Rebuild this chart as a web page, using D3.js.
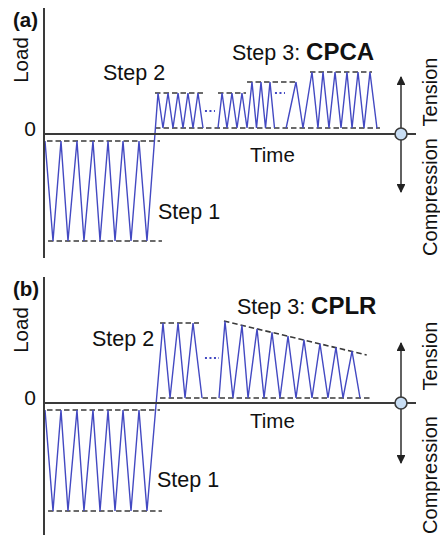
<!DOCTYPE html>
<html>
<head>
<meta charset="utf-8">
<script src="https://cdn.jsdelivr.net/npm/d3@7"></script>
<style>
  html, body { margin: 0; padding: 0; background: #fff; }
  svg { display: block; font-family: "Liberation Sans", Arial, sans-serif; }
</style>
</head>
<body>
<svg id="chart" width="440" height="541"></svg>
<script>
// ---- Loading programme values (time in arbitrary units, load in arbitrary units) ----

// Step 1: compressive cycling, identical in both programmes
const step1Time = [0.13, 1.16, 2.19, 3.09, 4.25, 5.15, 6.31, 7.22, 8.25, 9.15, 10.18, 11.21, 12.24, 13.27];
const step1LoadA = [-0.7, -10.7, -0.7, -10.7, -0.7, -10.7, -0.7, -10.7, -0.7, -10.7, -0.7, -10.7, -0.7, -10.7];
const step1LoadB = [-0.7, -10.8, -0.7, -10.8, -0.7, -10.8, -0.7, -10.8, -0.7, -10.8, -0.7, -10.8, -0.7, -10.8];

// (a) CPCA: step 2 first block of tension cycles
const cpcaStep2Time = [14.69, 15.33, 15.98, 16.62, 17.27, 17.91, 18.55, 19.2, 19.84, 20.49];
const cpcaStep2Load = [4.1, 0.6, 4.1, 0.6, 4.1, 0.6, 4.1, 0.6, 4.1, 0.6];
// (a) CPCA: end of step 2 and first amplitude level of step 3
const cpcaMidTime = [22.42, 22.94, 23.58, 24.22, 24.87, 25.51, 26.16, 26.8, 27.38, 27.96, 28.54, 29.12, 29.7];
const cpcaMidLoad = [0.6, 4.1, 0.6, 4.1, 0.6, 4.1, 0.6, 5.2, 0.6, 5.2, 0.6, 5.2, 0.6];
// (a) CPCA: last block at the highest constant amplitude
const cpcaEndTime = [31.2, 32.47, 33.37, 34.53, 35.3, 35.95, 36.72, 37.5, 38.27, 39.04, 39.69, 40.46, 41.23, 42.0, 42.9];
const cpcaEndLoad = [0.6, 5.2, 0.6, 6.2, 0.6, 6.2, 0.6, 6.2, 0.6, 6.2, 0.6, 6.2, 0.6, 6.2, 0.6];

// (b) CPLR: step 2 tension cycles
const cplrStep2Time = [15.33, 16.24, 17.27, 18.17, 19.2, 20.36];
const cplrStep2Load = [8.0, 0.5, 8.0, 0.5, 8.0, 0.5];
// (b) CPLR: step 3 with linearly reducing peak load
const cplrStep3Time = [22.55, 23.32, 24.35, 25.51, 26.29, 27.45, 28.35, 29.38, 30.41, 31.44, 32.47, 33.5, 34.53, 35.56, 36.59, 37.62, 38.53, 39.69, 40.72];
const cplrStep3Load = [0.5, 8.18, 0.5, 7.77, 0.5, 7.42, 0.5, 7.07, 0.5, 6.69, 0.5, 6.31, 0.5, 5.93, 0.5, 5.56, 0.5, 5.18, 0.5];

// Envelope (dashed) lines: [t0, load0, t1, load1]
const cpcaEnvelopes = [
  [0.39, -0.7, 14.95, -0.7],
  [0.52, -10.7, 15.2, -10.7],
  [14.3, 4.1, 20.62, 4.1],
  [22.42, 4.1, 26.03, 4.1],
  [14.3, 0.6, 43.29, 0.6],
  [26.16, 5.2, 32.73, 5.2],
  [34.27, 6.2, 42.26, 6.2]
];
const cplrEnvelopes = [
  [0.39, -0.7, 14.95, -0.7],
  [0.52, -10.8, 15.2, -10.8],
  [14.95, 8.0, 19.97, 8.0],
  [14.95, 0.5, 42.0, 0.5],
  [23.19, 8.2, 41.58, 4.8]
];

// Ellipses marking omitted cycles: [t0, t1, load]
const cpcaEllipses = [[20.74, 22.03, 2.3], [29.76, 31.05, 4.1]];
const cplrEllipses = [[20.74, 22.55, 4.5]];

// Axis domains
const timeDomain = [0, 46];
const loadTicks = [0];

// ---- Drawing ----
const svg = d3.select("#chart");
const BLUE = "#4349c2";
const DARK = "#3a3a3a";

svg.append("defs").append("marker")
  .attr("id", "arrow")
  .attr("viewBox", "0 0 10 10")
  .attr("refX", 9).attr("refY", 5)
  .attr("markerWidth", 5.5).attr("markerHeight", 5.5)
  .attr("markerUnits", "strokeWidth")
  .attr("orient", "auto")
  .append("path").attr("d", "M0,0 L10,5 L0,10 Z").attr("fill", "#222");

const x = d3.scaleLinear().domain(timeDomain).range([44, 401]);

function panel(cfg) {
  const y = d3.scaleLinear().domain(cfg.loadDomain).range(cfg.yRange);
  const g = svg.append("g");
  const line = d3.line().x(d => x(d[0])).y(d => y(d[1]));

  // envelopes
  g.selectAll("line.env").data(cfg.envelopes).join("line")
    .attr("class", "env")
    .attr("x1", d => x(d[0])).attr("y1", d => y(d[1]))
    .attr("x2", d => x(d[2])).attr("y2", d => y(d[3]))
    .attr("stroke", DARK).attr("stroke-width", 1.6)
    .attr("stroke-dasharray", "5.5,3");

  // waveform blocks
  g.selectAll("path.wave").data(cfg.blocks).join("path")
    .attr("class", "wave")
    .attr("d", b => line(d3.zip(b[0], b[1])))
    .attr("fill", "none").attr("stroke", BLUE)
    .attr("stroke-width", 1.4).attr("stroke-linejoin", "miter");

  // ellipses
  g.selectAll("line.dots").data(cfg.ellipses).join("line")
    .attr("class", "dots")
    .attr("x1", d => x(d[0])).attr("x2", d => x(d[1]))
    .attr("y1", d => y(d[2])).attr("y2", d => y(d[2]))
    .attr("stroke", BLUE).attr("stroke-width", 2)
    .attr("stroke-dasharray", "2,2.5");

  // axes
  const y0 = y(0);
  g.append("line").attr("x1", 44).attr("x2", 44)
    .attr("y1", cfg.yRange[1]).attr("y2", cfg.yRange[0])
    .attr("stroke", DARK).attr("stroke-width", 2);
  g.append("line").attr("x1", 44).attr("x2", 416)
    .attr("y1", y0).attr("y2", y0)
    .attr("stroke", DARK).attr("stroke-width", 2);

  g.selectAll("text.tick").data(loadTicks).join("text")
    .attr("class", "tick")
    .attr("x", 36).attr("y", d => y(d) + 1.5)
    .attr("text-anchor", "end").attr("font-size", 21).attr("fill", "#111")
    .text(d => d);

  // tension / compression indicator
  const cx = x(timeDomain[1]);
  g.append("line").attr("x1", cx).attr("x2", cx)
    .attr("y1", y0).attr("y2", y0 - cfg.arrowUp)
    .attr("stroke", DARK).attr("stroke-width", 1.6).attr("marker-end", "url(#arrow)");
  g.append("line").attr("x1", cx).attr("x2", cx)
    .attr("y1", y0).attr("y2", y0 + cfg.arrowDown)
    .attr("stroke", DARK).attr("stroke-width", 1.6).attr("marker-end", "url(#arrow)");
  g.append("circle").attr("cx", cx).attr("cy", y0).attr("r", 6)
    .attr("fill", "#c9def4").attr("stroke", DARK).attr("stroke-width", 1.6);

  // labels
  const t = (px, py, s, opts = {}) => {
    const el = g.append("text").attr("x", px).attr("y", py)
      .attr("font-size", opts.size || 20).attr("fill", "#111")
      .attr("font-weight", opts.bold ? "bold" : null)
      .attr("text-anchor", opts.anchor || "start");
    if (opts.rotate) el.attr("transform", `rotate(-90 ${px} ${py})`);
    el.text(s);
    return el;
  };
  t(13, cfg.tagY, cfg.tag, { bold: true, size: 20.5 });
  t(28, cfg.loadLabelY, "Load", { rotate: true, anchor: "middle", size: 20.5 });
  t(cfg.step1[0], cfg.step1[1], "Step 1", { size: 21.5 });
  t(cfg.step2[0], cfg.step2[1], "Step 2", { size: 21.5 });
  const s3 = t(cfg.step3[0], cfg.step3[1], "Step 3: ", { size: 21.5 });
  s3.append("tspan").attr("font-weight", "bold").attr("font-size", 24).text(cfg.name);
  t(250, y0 + cfg.timeDy, "Time", { size: 20.5 });
  t(437, y0 - cfg.tensionDy, "Tension", { rotate: true, anchor: "middle" });
  t(437, y0 + cfg.compressionDy, "Compression", { rotate: true, anchor: "middle" });
}

panel({
  loadDomain: [-12.4, 12.6], yRange: [258, 8],
  envelopes: cpcaEnvelopes,
  blocks: [
    [step1Time.concat(cpcaStep2Time), step1LoadA.concat(cpcaStep2Load)],
    [cpcaMidTime, cpcaMidLoad],
    [cpcaEndTime, cpcaEndLoad]
  ],
  ellipses: cpcaEllipses,
  arrowUp: 57, arrowDown: 58,
  tag: "(a)", tagY: 27, loadLabelY: 60,
  step1: [158, 219], step2: [103, 80], step3: [232, 60], name: "CPCA",
  timeDy: 28, tensionDy: 42, compressionDy: 63
});

panel({
  loadDomain: [-13.2, 12.6], yRange: [535, 277],
  envelopes: cplrEnvelopes,
  blocks: [
    [step1Time.concat(cplrStep2Time), step1LoadB.concat(cplrStep2Load)],
    [cplrStep3Time, cplrStep3Load]
  ],
  ellipses: cplrEllipses,
  arrowUp: 60, arrowDown: 60,
  tag: "(b)", tagY: 296, loadLabelY: 330,
  step1: [157, 487], step2: [92, 346], step3: [237, 314], name: "CPLR",
  timeDy: 25, tensionDy: 47, compressionDy: 72
});
</script>
</body>
</html>
